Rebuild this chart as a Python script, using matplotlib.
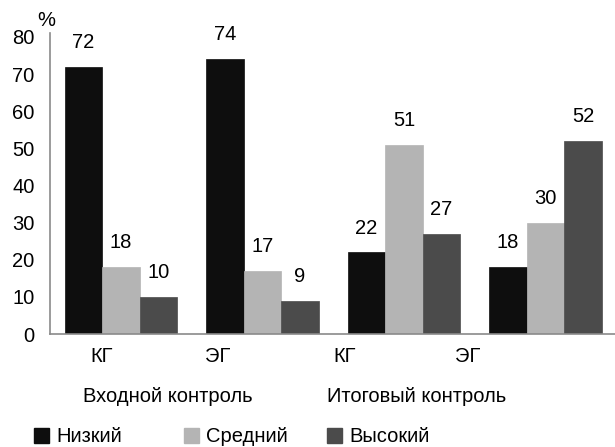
import numpy as np
import matplotlib
matplotlib.use("Agg")
import matplotlib.pyplot as plt
from matplotlib.patches import Patch

plt.rcParams['font.family'] = ['Liberation Sans', 'DejaVu Sans']
FS = 14.5

groups = ['КГ', 'ЭГ', 'КГ', 'ЭГ']
stages = ['Входной контроль', 'Итоговый контроль']
levels = ['Низкий', 'Средний', 'Высокий']
low = [72, 74, 22, 18]
mid = [18, 17, 51, 30]
high = [10, 9, 27, 52]
colors = ['#0e0e0e', '#b4b4b4', '#4b4b4b']

fig = plt.figure(figsize=(6.15, 4.47), dpi=100)
ax = fig.add_axes([50 / 615, 113 / 447, 565 / 615, 297 / 447])

x = np.arange(len(groups))
w = 0.265
for k, (vals, c) in enumerate(zip([low, mid, high], colors)):
    pos = x + (k - 1) * w
    ax.bar(pos, vals, width=w, color=c, edgecolor=c, linewidth=0.5)
    for px, v in zip(pos, vals):
        ax.annotate(str(v), (px, v), xytext=(0, 17.5), textcoords='offset points',
                    ha='center', va='center', fontsize=FS)

ax.set_xlim(-0.5, 3.49)
ax.set_ylim(0, 80)
ax.set_yticks(range(0, 81, 10))
ax.tick_params(axis='y', length=0, pad=11, labelsize=FS)
ax.set_xticks([])
for s in ['top', 'right']:
    ax.spines[s].set_visible(False)
for s in ['left', 'bottom']:
    ax.spines[s].set_color('#8a8a8a')
    ax.spines[s].set_linewidth(1.2)
ax.spines['left'].set_bounds(0, 81)

# category labels sit below the axis, shifted left of the bar groups
tick_x = [102, 218, 345, 468]
for tx, g in zip(tick_x, groups):
    fig.text(tx / 615, 1 - 357 / 447, g, ha='center', va='center', fontsize=FS)
for tx, s in zip([168, 417], stages):
    fig.text(tx / 615, 1 - 397 / 447, s, ha='center', va='center', fontsize=FS)

fig.text(46 / 615, 1 - 20 / 447, '%', ha='center', va='center', fontsize=FS)

# one legend entry per level, spaced like the original layout
for lx, lab, c in zip([34, 184, 327], levels, colors):
    fig.legend([Patch(facecolor=c, edgecolor=c)], [lab], loc='center left',
               bbox_to_anchor=(lx / 615, 1 - 437 / 447), frameon=False, fontsize=FS,
               handlelength=0.75, handleheight=0.75, handletextpad=0.35,
               borderpad=0, borderaxespad=0)

fig.savefig('out.png', dpi=100)
